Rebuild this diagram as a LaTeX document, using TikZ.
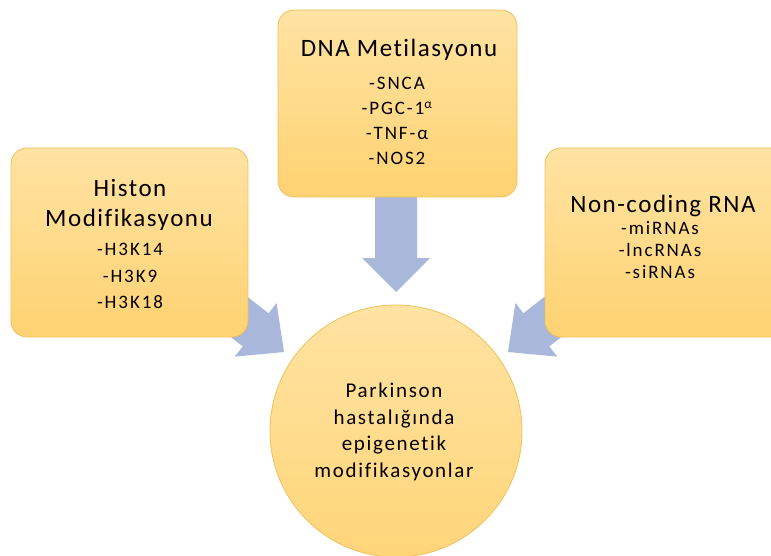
\documentclass[tikz,border=0pt]{standalone}
\usepackage{fontspec}
\setmainfont{Carlito}[Ligatures=NoCommon]
\newfontfamily\titlefont{Carlito}[LetterSpace=6,Ligatures=NoCommon]
\newfontfamily\itemfont{Carlito}[LetterSpace=10,Ligatures=NoCommon]
\newfontfamily\circfont{Carlito}[LetterSpace=8,Ligatures=NoCommon]
\begin{document}
\begin{tikzpicture}[x=1pt,y=-1pt,
  box/.style={draw=boxline, line width=0.8pt, rounded corners=16pt, top color=boxtop, bottom color=boxbot},
  blockarrow/.style={fill=arrowc, draw=none},
  title/.style={font=\titlefont\fontsize{25}{30}\selectfont, text=black, inner sep=0pt, anchor=base},
  item/.style={font=\itemfont\fontsize{19}{23}\selectfont, text=black, inner sep=0pt, anchor=base},
  ctext/.style={font=\circfont\fontsize{21}{27}\selectfont, text=black, inner sep=0pt, anchor=base},
]
\definecolor{boxtop}{HTML}{FFE3A3}
\definecolor{boxbot}{HTML}{FFD272}
\definecolor{boxline}{HTML}{EFC15A}
\definecolor{arrowc}{HTML}{A8B7DA}
\definecolor{circfill}{HTML}{FFD579}
\useasboundingbox (0,0) rectangle (771,556);
\fill[white] (0,0) rectangle (771,556);
\clip (0,0) rectangle (771,556);
% arrows
\begin{scope}[shift={(396,292)}, rotate=-90]
  \fill[blockarrow] (0,0) -- (-34,34) -- (-34,21) -- (-110,21) -- (-110,-21) -- (-34,-21) -- (-34,-34) -- cycle;
\end{scope}
\begin{scope}[shift={(284,352)}, rotate=-38]
  \fill[blockarrow] (0,0) -- (-36,34) -- (-36,21) -- (-100,21) -- (-100,-21) -- (-36,-21) -- (-36,-34) -- cycle;
\end{scope}
\begin{scope}[shift={(508,352)}, rotate=-142]
  \fill[blockarrow] (0,0) -- (-36,34) -- (-36,21) -- (-100,21) -- (-100,-21) -- (-36,-21) -- (-36,-34) -- cycle;
\end{scope}
% boxes
\path[box] (278,10) rectangle (517,197);
\path[box] (11,148) rectangle (248,337);
\path[box] (545,148) rectangle (800,337);
% circle
\path[draw=boxline, line width=0.8pt, top color=boxtop, bottom color=circfill] (396,431) circle[radius=126];
% circle text
\node[ctext] (c1) at (394,397) {Parkinson};
\node[ctext] (c2) at (394,424) {hastalığında};
\node[ctext] (c3) at (394,450) {epigenetik};
\node[ctext] (c4) at (394,477) {modifikasyonlar};
% DNA box
\node[title] (dnat) at (399,57) {DNA Metilasyonu};
\node[item] (d1) at (397,90) {-SNCA};
\node[item] (d2) at (397,115) {-PGC-1\textsuperscript{α}};
\node[item] (d3) at (397,140) {-TNF-α};
\node[item] (d4) at (397,165) {-NOS2};
% Histon box
\node[title] (h1) at (130,197) {Histon};
\node[title] (h2) at (129,227) {Modifikasyonu};
\node[item] (h3) at (130,255) {-H3K14};
\node[item] (h4) at (130,282) {-H3K9};
\node[item] (h5) at (130,308) {-H3K18};
% Non-coding box
\node[title] (n1) at (663,213) {Non-coding RNA};
\node[item] (n2) at (660,234) {-miRNAs};
\node[item] (n3) at (660,256) {-lncRNAs};
\node[item] (n4) at (660,278) {-siRNAs};
\end{tikzpicture}
\end{document}
